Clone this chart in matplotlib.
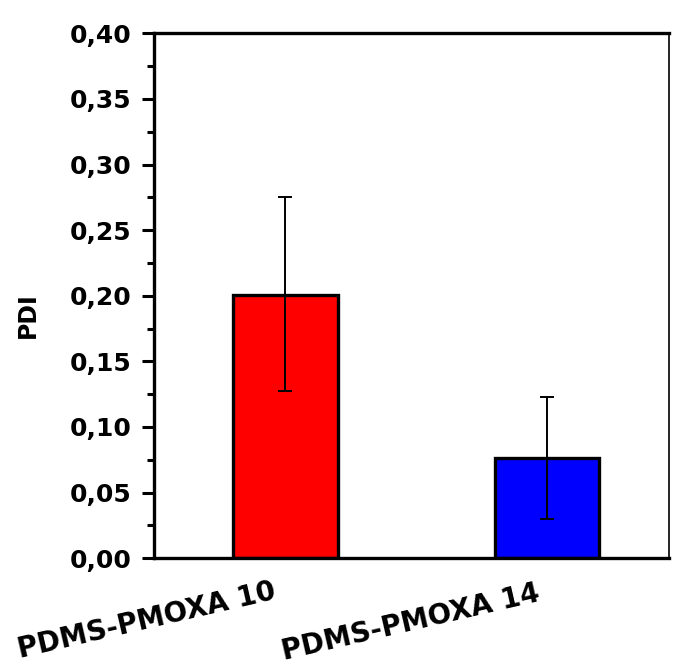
import matplotlib
matplotlib.use("Agg")
import matplotlib.pyplot as plt
from matplotlib.ticker import MultipleLocator, FuncFormatter

# data
samples = ["PDMS-PMOXA 10", "PDMS-PMOXA 14"]
pdi = [0.2005, 0.0762]
err_low = [0.127, 0.0297]
err_high = [0.275, 0.1227]
colors = ["#FF0000", "#0000FF"]

plt.rcParams["font.family"] = ["DejaVu Sans"]
plt.rcParams["font.weight"] = "bold"

fig = plt.figure(figsize=(6.78, 6.66), dpi=100)
ax = fig.add_axes([0.227, 0.162, 0.760, 0.788])

x = list(range(len(samples)))
yerr = [[p - lo for p, lo in zip(pdi, err_low)],
        [hi - p for p, hi in zip(pdi, err_high)]]
ax.bar(x, pdi, width=0.40, color=colors, edgecolor="black", linewidth=2.4, zorder=2)
ax.errorbar(x, pdi, yerr=yerr, fmt="none", ecolor="black", elinewidth=1.4,
            capsize=5, capthick=1.4, zorder=3)

ax.set_xlim(-0.503, 1.467)
ax.set_ylim(0, 0.40)
ax.yaxis.set_major_locator(MultipleLocator(0.05))
ax.yaxis.set_minor_locator(MultipleLocator(0.025))
ax.yaxis.set_major_formatter(FuncFormatter(lambda v, _: f"{v:.2f}".replace(".", ",")))
ax.set_xticks([])
ax.tick_params(axis="y", which="major", length=9, width=2.2, labelsize=18, pad=7)
ax.tick_params(axis="y", which="minor", length=5, width=2.2)
for lab in ax.get_yticklabels():
    lab.set_fontweight("bold")

for side in ["left", "bottom", "top"]:
    ax.spines[side].set_linewidth(2.4)
ax.spines["right"].set_linewidth(1.2)

ax.text(-0.245, 0.463, "PDI", transform=ax.transAxes, rotation=90,
        ha="center", va="center", fontsize=17, fontweight="bold")

# rotated category labels, placed below the axis like the original
label_pos = [(-0.014, -0.118), (0.499, -0.122)]
for name, (lx, ly) in zip(samples, label_pos):
    ax.text(lx, ly, name, transform=ax.transAxes, rotation=13, ha="center",
            va="center", fontsize=20, fontweight="bold", rotation_mode="anchor")

fig.savefig("out.png", dpi=100)
plt.close(fig)
